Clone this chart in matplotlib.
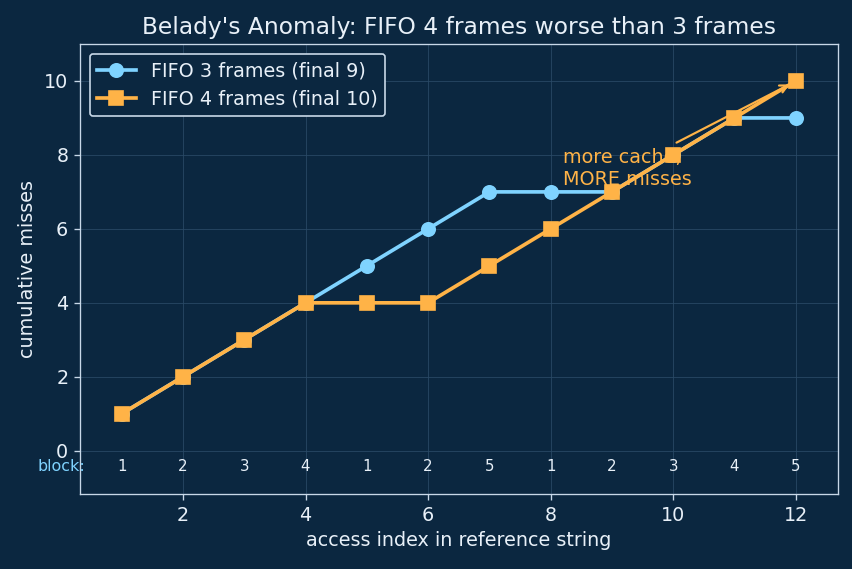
import matplotlib
matplotlib.use("Agg")
import matplotlib.pyplot as plt

access_idx = list(range(1, 13))
blocks = [1, 2, 3, 4, 1, 2, 5, 1, 2, 3, 4, 5]
fifo3 = [1, 2, 3, 4, 5, 6, 7, 7, 7, 8, 9, 9]
fifo4 = [1, 2, 3, 4, 4, 4, 5, 6, 7, 8, 9, 10]

BG = "#0b2740"
FG = "#e8f0f8"
SPINE = "#c8d8e8"
BLUE = "#7fd3ff"
ORANGE = "#ffb347"

fig, ax = plt.subplots(figsize=(7.1, 4.7417), dpi=120)
fig.patch.set_facecolor(BG)
ax.set_facecolor(BG)

ax.plot(access_idx, fifo3, color=BLUE, lw=2.2, marker="o", ms=8, label="FIFO 3 frames (final 9)", zorder=3)
ax.plot(access_idx, fifo4, color=ORANGE, lw=2.2, marker="s", ms=8, label="FIFO 4 frames (final 10)", zorder=4)

for x, b in zip(access_idx, blocks):
    ax.text(x, -0.43, str(b), ha="center", va="center", fontsize=9, color=FG)
ax.text(0.4, -0.43, "block:", ha="right", va="center", fontsize=9.5, color=BLUE)

ax.annotate("more cache,\nMORE misses", xy=(11.95, 9.95), xytext=(8.2, 7.2),
            color=ORANGE, fontsize=11.5,
            arrowprops=dict(arrowstyle="->", color=ORANGE, lw=1.3), zorder=5)

ax.set_xlim(0.32, 12.69)
ax.set_ylim(-1.17, 11)
ax.set_xticks([2, 4, 6, 8, 10, 12])
ax.set_yticks([0, 2, 4, 6, 8, 10])
ax.grid(True, color="#2a4a66", lw=0.6, alpha=0.8)
ax.set_axisbelow(True)

for s in ax.spines.values():
    s.set_color(SPINE)
ax.tick_params(colors=SPINE, labelsize=11.5)
for t in ax.get_xticklabels() + ax.get_yticklabels():
    t.set_color(FG)

ax.set_xlabel("access index in reference string", color=FG, fontsize=11.5)
ax.set_ylabel("cumulative misses", color=FG, fontsize=11.5)
ax.set_title("Belady's Anomaly: FIFO 4 frames worse than 3 frames", color=FG, fontsize=14)

leg = ax.legend(loc="upper left", facecolor=BG, edgecolor=SPINE, fontsize=11.5, framealpha=1)
for t in leg.get_texts():
    t.set_color(FG)

fig.subplots_adjust(left=0.0939, right=0.9836, top=0.9227, bottom=0.1318)
fig.savefig("out.png", dpi=120, facecolor=BG)
